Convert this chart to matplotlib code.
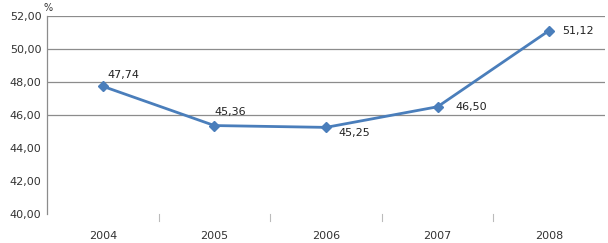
import matplotlib
matplotlib.use("Agg")
import matplotlib.pyplot as plt

years = ["2004", "2005", "2006", "2007", "2008"]
values = [47.74, 45.36, 45.25, 46.50, 51.12]
labels = ["47,74", "45,36", "45,25", "46,50", "51,12"]
yticks = [40, 42, 44, 46, 48, 50, 52]
grid_levels = [46, 48, 50, 52]

fig = plt.figure(figsize=(6.08, 2.43), dpi=100)
ax = fig.add_axes([47/608, 29/243, 558/608, 198/243])
x = list(range(len(years)))
ax.plot(x, values, color="#4a7ebb", lw=2, marker="D", ms=5, zorder=3)

for g in grid_levels:
    ax.axhline(g, color="#8c8c8c", lw=0.9, zorder=1)

ax.set_xlim(-0.5, 4.5)
ax.set_ylim(40, 52)
ax.set_yticks(yticks)
ax.set_yticklabels([f"{v:.2f}".replace(".", ",") for v in yticks], fontsize=8, color="#333333")
ax.set_xticks(x)
ax.set_xticklabels(years, fontsize=8, color="#333333")
ax.tick_params(axis="x", length=0, pad=12)
ax.tick_params(axis="y", length=0, pad=4)
for b in [0.5, 1.5, 2.5, 3.5]:
    ax.plot([b, b], [39.6, 40.0], color="#bbbbbb", lw=0.8, clip_on=False)

for s in ["top", "right", "bottom"]:
    ax.spines[s].set_visible(False)
ax.spines["left"].set_color("#8c8c8c")
ax.spines["left"].set_linewidth(0.9)

offsets = [(3, 8), (0, 10), (9, -4), (13, 0), (9, 0)]
for xi, v, lab, (dx, dy) in zip(x, values, labels, offsets):
    ax.annotate(lab, (xi, v), xytext=(dx, dy), textcoords="offset points",
                fontsize=8, color="#222222", ha="left", va="center")

fig.text(43/608, 1 - 8/243, "%", fontsize=7, color="#333333", ha="left", va="center")

fig.savefig("out.png", dpi=100)
